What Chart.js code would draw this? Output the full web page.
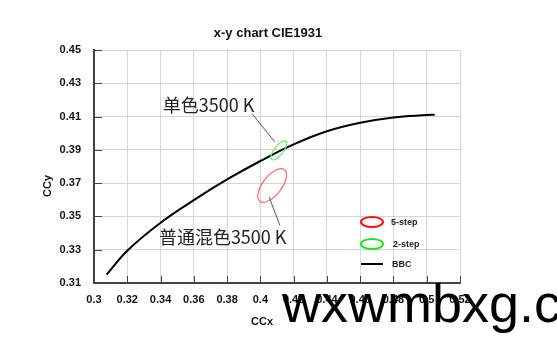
<!DOCTYPE html>
<html lang="en">
<head>
  <meta charset="UTF-8">
  <title>x-y chart CIE1931</title>
  <style>
    body {
      margin: 0;
      padding: 0;
      background-color: white;
    }
    .chart-box {
      position: relative;
      width: 557px;
      height: 352px;
      overflow: hidden;
    }
  </style>
</head>
<body>
  <div class="chart-box">
    <canvas id="cieChart"></canvas>
  </div>

  <script src="https://cdn.jsdelivr.net/npm/chart.js"></script>
  <script>
    // black body curve (BBC)
    const bbcX = [0.3076, 0.32, 0.34, 0.36, 0.38, 0.40, 0.42, 0.44, 0.46, 0.48, 0.50, 0.5048];
    const bbcY = [0.3150, 0.3294, 0.3462, 0.3598, 0.3722, 0.3833, 0.3933, 0.4012, 0.4063, 0.4095, 0.4109, 0.4111];

    // colour tolerance ellipses: centre and semi axes in CIE units
    const ellipseNames = ['5-step', '2-step'];
    const ellipseX = [0.4071, 0.4111];
    const ellipseY = [0.3686, 0.3897];
    const ellipseMajor = [0.0120, 0.0069];
    const ellipseMinor = [0.0057, 0.0027];

    const xTickValues = [0.3, 0.32, 0.34, 0.36, 0.38, 0.4, 0.42, 0.44, 0.46, 0.48, 0.5, 0.52];
    const xTickLabels = ['0.3', '0.32', '0.34', '0.36', '0.38', '0.4', '0.42', '0.44', '0.46', '0.48', '0.5', '0.52'];
    const yTickValues = [0.31, 0.33, 0.35, 0.37, 0.39, 0.41, 0.43, 0.45];
    const yTickLabels = ['0.31', '0.33', '0.35', '0.37', '0.39', '0.41', '0.43', '0.45'];

    const ellipseColors = ['#ff6a6a', '#66ee66'];
    const legendColors = ['#ff1010', '#22e022'];

    const bbcPoints = bbcX.map((x, i) => ({ x: x, y: bbcY[i] }));

    // draws ellipses, notes, legend, titles and the inner tick marks
    const extras = {
      id: 'extras',
      afterDatasetsDraw(chart) {
        const ctx = chart.ctx;
        const xs = chart.scales.x;
        const ys = chart.scales.y;
        const area = chart.chartArea;
        const unit = xs.getPixelForValue(0.4) - xs.getPixelForValue(0.39);

        ctx.save();

        // inner ticks
        ctx.strokeStyle = '#444';
        ctx.lineWidth = 1;
        xTickValues.forEach(v => {
          const px = Math.round(xs.getPixelForValue(v)) + 0.5;
          ctx.beginPath();
          ctx.moveTo(px, area.bottom);
          ctx.lineTo(px, area.bottom - 7);
          ctx.stroke();
        });
        yTickValues.forEach(v => {
          const py = Math.round(ys.getPixelForValue(v)) + 0.5;
          ctx.beginPath();
          ctx.moveTo(area.left, py);
          ctx.lineTo(area.left + 8, py);
          ctx.stroke();
        });

        // ellipses
        ellipseNames.forEach((name, i) => {
          ctx.beginPath();
          ctx.strokeStyle = ellipseColors[i];
          ctx.lineWidth = 1.2;
          ctx.ellipse(xs.getPixelForValue(ellipseX[i]), ys.getPixelForValue(ellipseY[i]),
            ellipseMajor[i] / 0.01 * unit, ellipseMinor[i] / 0.01 * unit, -52 * Math.PI / 180, 0, Math.PI * 2);
          ctx.stroke();
        });

        // leader lines
        ctx.strokeStyle = '#555';
        ctx.lineWidth = 1;
        ctx.beginPath();
        ctx.moveTo(xs.getPixelForValue(0.3953), ys.getPixelForValue(0.4114));
        ctx.lineTo(xs.getPixelForValue(0.4085), ys.getPixelForValue(0.3950));
        ctx.moveTo(xs.getPixelForValue(0.4053), ys.getPixelForValue(0.3616));
        ctx.lineTo(xs.getPixelForValue(0.4117), ys.getPixelForValue(0.3446));
        ctx.stroke();

        // notes
        ctx.fillStyle = '#222';
        ctx.font = '18px "Noto Sans CJK SC"';
        ctx.textAlign = 'left';
        ctx.textBaseline = 'middle';
        ctx.fillText('单色3500 K', xs.getPixelForValue(0.3414), ys.getPixelForValue(0.4168));
        ctx.fillText('普通混色3500 K', xs.getPixelForValue(0.3390), ys.getPixelForValue(0.3378));

        // legend
        const lx = area.right - 88;
        ctx.lineWidth = 2;
        ellipseNames.forEach((name, i) => {
          const ly = area.bottom - 61 + i * 22;
          ctx.strokeStyle = legendColors[i];
          ctx.beginPath();
          ctx.ellipse(lx, ly, 11, 5, 0, 0, Math.PI * 2);
          ctx.stroke();
          ctx.fillStyle = '#222';
          ctx.font = 'bold 9px Arial';
          ctx.fillText(name, lx + 19 + i * 2, ly + 1);
        });
        ctx.strokeStyle = '#000';
        ctx.beginPath();
        ctx.moveTo(lx - 11, area.bottom - 19);
        ctx.lineTo(lx + 11, area.bottom - 19);
        ctx.stroke();
        ctx.fillText('BBC', lx + 20, area.bottom - 18.5);

        // titles
        ctx.fillStyle = '#111';
        ctx.textAlign = 'center';
        ctx.font = 'bold 13px Arial';
        ctx.fillText('x-y chart CIE1931', 268, 33);
        ctx.font = 'bold 11px Arial';
        ctx.fillText('CCx', 262, 322);
        ctx.save();
        ctx.translate(48, 186);
        ctx.rotate(-Math.PI / 2);
        ctx.fillText('CCy', 0, 0);
        ctx.restore();

        // watermark
        ctx.fillStyle = '#000';
        ctx.textAlign = 'left';
        ctx.textBaseline = 'alphabetic';
        ctx.font = '54px Arial';
        ctx.fillText('wxwmbxg.com', 282, 322);

        ctx.restore();
      }
    };

    const ctx = document.getElementById('cieChart').getContext('2d');
    const cieChart = new Chart(ctx, {
      type: 'scatter',
      data: {
        datasets: [{
          label: 'BBC',
          data: bbcPoints,
          showLine: true,
          borderColor: '#000',
          borderWidth: 2,
          pointRadius: 0,
          tension: 0.4,
        }],
      },
      options: {
        responsive: true,
        maintainAspectRatio: false,
        animation: false,
        layout: {
          padding: { left: 0, right: 97, top: 50, bottom: 0 },
        },
        plugins: {
          legend: { display: false },
          tooltip: { enabled: false },
        },
        scales: {
          x: {
            type: 'linear',
            min: 0.3,
            max: 0.52,
            afterFit: scale => { scale.height = 69; },
            afterBuildTicks: scale => { scale.ticks = xTickValues.map(v => ({ value: v })); },
            grid: { color: '#d6d6d6', drawTicks: false },
            border: { color: '#444', width: 2 },
            ticks: {
              autoSkip: false,
              maxRotation: 0,
              padding: 10,
              color: '#111',
              font: { family: 'Arial', size: 11, weight: 'bold' },
              callback: (value, index) => xTickLabels[index],
            },
          },
          y: {
            min: 0.31,
            max: 0.45,
            afterFit: scale => { scale.width = 94; },
            afterBuildTicks: scale => { scale.ticks = yTickValues.map(v => ({ value: v })); },
            grid: { color: '#d6d6d6', drawTicks: false },
            border: { color: '#444', width: 2 },
            ticks: {
              autoSkip: false,
              padding: 13,
              color: '#111',
              font: { family: 'Arial', size: 11, weight: 'bold' },
              callback: (value, index) => yTickLabels[index],
            },
          },
        },
      },
      plugins: [extras],
    });
  </script>
</body>
</html>
